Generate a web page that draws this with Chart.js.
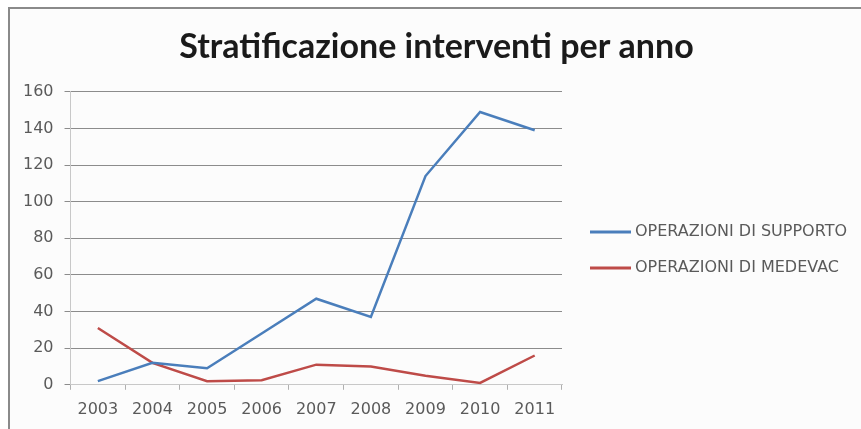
<!DOCTYPE html>
<html>
<head>
<meta charset="utf-8">
<script src="https://cdn.jsdelivr.net/npm/chart.js@4.4.0/dist/chart.umd.min.js"></script>
<style>
    html, body { margin: 0; padding: 0; background: #ffffff; }
    #wrap { position: relative; width: 861px; height: 429px; }
    #frame {
        position: absolute; left: 8px; top: 7px; right: 0; bottom: 0;
        border-top: 2px solid #8a8a8a; border-left: 2px solid #8a8a8a;
        background: #fcfcfc;
    }
    #chart { position: absolute; left: 0; top: 0; }
</style>
</head>
<body>
<div id="wrap">
    <div id="frame"></div>
    <canvas id="chart" width="861" height="429"></canvas>
</div>
<script>
    // Years on the category axis
    const anni = ['2003', '2004', '2005', '2006', '2007', '2008', '2009', '2010', '2011'];

    // Interventions per year
    const supporto = [2, 12, 9, 28, 47, 37, 114, 149, 139];
    const medevac = [31, 12, 2, 2.5, 11, 10, 5, 1, 16];

    const yTicks = [0, 20, 40, 60, 80, 100, 120, 140, 160];

    const colors = {
        blue: '#4a7ebb',
        red: '#be4b48',
        grid: '#8c8c8c',
        text: '#5a5a5a'
    };

    const labelFont = { family: 'DejaVu Sans', size: 16 };

    // Legend drawn to the right of the plot, Excel style (line + label)
    const sideLegend = {
        id: 'sideLegend',
        afterDraw(chart) {
            const c = chart.ctx;
            const x0 = chart.chartArea.right + 28;
            let y = 232;
            c.save();
            c.font = labelFont.size + 'px "' + labelFont.family + '"';
            c.textBaseline = 'middle';
            c.fillStyle = colors.text;
            chart.data.datasets.forEach(ds => {
                c.strokeStyle = ds.borderColor;
                c.lineWidth = 3;
                c.beginPath();
                c.moveTo(x0, y);
                c.lineTo(x0 + 41, y);
                c.stroke();
                c.fillText(ds.label, x0 + 45, y);
                y += 36;
            });
            c.restore();
        }
    };

    const ctx = document.getElementById('chart').getContext('2d');
    new Chart(ctx, {
        type: 'line',
        data: {
            labels: anni,
            datasets: [{
                label: 'OPERAZIONI DI SUPPORTO',
                data: supporto,
                borderColor: colors.blue,
                backgroundColor: colors.blue,
                borderWidth: 2.5,
                pointRadius: 0,
                tension: 0
            }, {
                label: 'OPERAZIONI DI MEDEVAC',
                data: medevac,
                borderColor: colors.red,
                backgroundColor: colors.red,
                borderWidth: 2.5,
                pointRadius: 0,
                tension: 0
            }]
        },
        options: {
            responsive: false,
            animation: false,
            layout: {
                padding: { left: 12, right: 0, top: 27, bottom: 0 }
            },
            plugins: {
                title: {
                    display: true,
                    text: 'Stratificazione interventi per anno',
                    color: '#1a1a1a',
                    font: { family: 'Lato', size: 34, weight: 'bold' },
                    padding: { top: 0, bottom: 24 }
                },
                legend: { display: false },
                tooltip: { enabled: false }
            },
            scales: {
                x: {
                    offset: true,
                    grid: {
                        offset: true,
                        drawOnChartArea: false,
                        drawTicks: true,
                        tickLength: 5,
                        color: '#b0b0b0'
                    },
                    border: { color: '#c8c8c8' },
                    ticks: {
                        color: colors.text,
                        padding: 10,
                        maxRotation: 0,
                        autoSkip: false,
                        font: labelFont
                    }
                },
                y: {
                    min: 0,
                    max: 160,
                    afterBuildTicks: function(axis) {
                        axis.ticks = yTicks.map(v => ({ value: v }));
                    },
                    grid: {
                        color: colors.grid,
                        tickLength: 6
                    },
                    border: { color: '#c8c8c8' },
                    ticks: {
                        color: colors.text,
                        padding: 11,
                        font: labelFont
                    }
                },
                // empty right-hand axis, only keeps room free for the legend
                legendSpace: {
                    position: 'right',
                    grid: { display: false },
                    border: { display: false },
                    ticks: { display: false },
                    afterFit: function(axis) {
                        axis.width = 299;
                    }
                }
            }
        },
        plugins: [sideLegend]
    });
</script>
</body>
</html>
